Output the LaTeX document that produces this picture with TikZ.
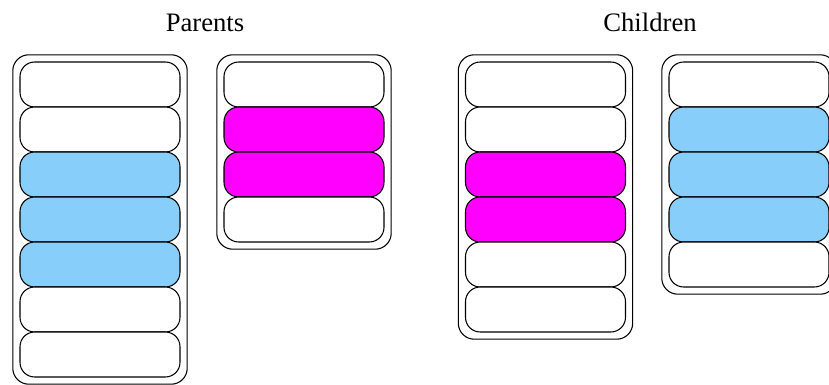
\documentclass[tikz,border=0pt]{standalone}
\usepackage{fontspec}
\setmainfont{Liberation Serif}
\usetikzlibrary{fit}
\definecolor{slotblue}{HTML}{87CEFA}
\definecolor{slotpink}{HTML}{FF00FF}
\tikzset{
  slot/.style={draw, rounded corners=11pt, minimum width=120pt, minimum height=33.75pt, inner sep=0pt, line width=0.8pt},
  frame/.style={draw, rounded corners=12pt, inner sep=5pt, line width=0.8pt},
  heading/.style={font=\fontsize{20}{24}\selectfont, anchor=base}
}
\begin{document}
\begin{tikzpicture}[x=0.75pt, y=-0.75pt]
  \useasboundingbox (0,0) rectangle (829,385);
  \node[heading] (parents) at (205,32) {Parents};
  \node[heading] (children) at (650,32) {Children};
  % parents
  \foreach \c [count=\i] in {white,white,slotblue,slotblue,slotblue,white,white}
    \node[slot, fill=\c] (pa\i) at (100,{39.5+45*\i}) {};
  \foreach \c [count=\i] in {white,slotpink,slotpink,white}
    \node[slot, fill=\c] (pb\i) at (304,{39.5+45*\i}) {};
  % children
  \foreach \c [count=\i] in {white,white,slotpink,slotpink,white,white}
    \node[slot, fill=\c] (ca\i) at (545.5,{39.5+45*\i}) {};
  \foreach \c [count=\i] in {white,slotblue,slotblue,slotblue,white}
    \node[slot, fill=\c] (cb\i) at (749,{39.5+45*\i}) {};
  \node[frame, fit=(pa1)(pa7)] (pa) {};
  \node[frame, fit=(pb1)(pb4)] (pb) {};
  \node[frame, fit=(ca1)(ca6)] (ca) {};
  \node[frame, fit=(cb1)(cb5)] (cb) {};
\end{tikzpicture}
\end{document}
